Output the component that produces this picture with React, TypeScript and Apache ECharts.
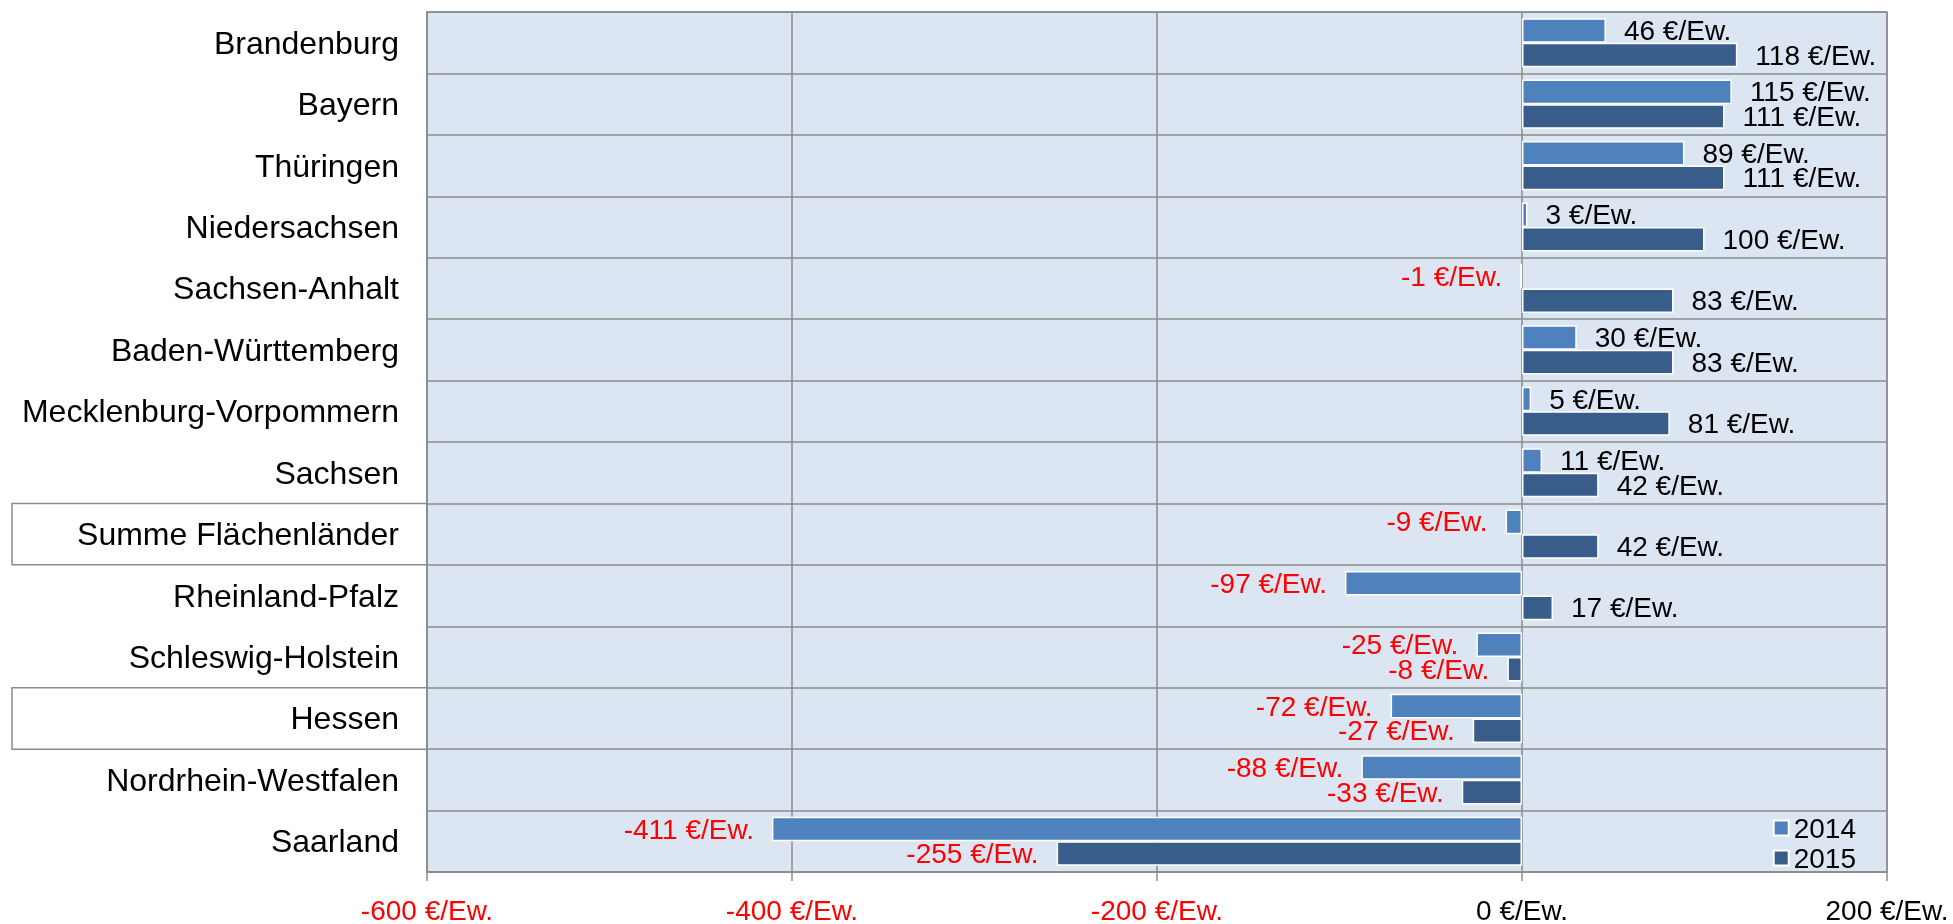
import React, { useEffect, useRef } from "react";
import * as echarts from "echarts";

const categories = [
  "Brandenburg",
  "Bayern",
  "Thüringen",
  "Niedersachsen",
  "Sachsen-Anhalt",
  "Baden-Württemberg",
  "Mecklenburg-Vorpommern",
  "Sachsen",
  "Summe Flächenländer",
  "Rheinland-Pfalz",
  "Schleswig-Holstein",
  "Hessen",
  "Nordrhein-Westfalen",
  "Saarland",
];
const values2014 = [46, 115, 89, 3, -1, 30, 5, 11, -9, -97, -25, -72, -88, -411];
const values2015 = [118, 111, 111, 100, 83, 83, 81, 42, 42, 17, -8, -27, -33, -255];
const boxedCategories = ["Summe Flächenländer", "Hessen"];
const xTicks = { min: -600, max: 200, interval: 200 };

const FONT = "'Liberation Sans', Arial, sans-serif";
const GRID_COLOR = "#8c8c8c";

function makeData(vals: number[]) {
  return vals.map((v) => ({
    value: v,
    label: {
      position: v < 0 ? "left" : "right",
      color: v < 0 ? "#ff0000" : "#000000",
    },
  }));
}

export default function App() {
  const ref = useRef<HTMLDivElement>(null);
  useEffect(() => {
    if (!ref.current) return;
    const chart = echarts.init(ref.current, undefined, { renderer: "svg" });
    const labelCfg = {
      show: true,
      distance: 18,
      fontSize: 28,
      fontFamily: FONT,
      formatter: (p: any) => `${p.value} €/Ew.`,
    };
    chart.setOption({
      animation: false,
      textStyle: { fontFamily: FONT },
      grid: {
        left: 427,
        right: 66,
        top: 12,
        bottom: 48,
        show: true,
        backgroundColor: "#dce6f2",
        borderColor: GRID_COLOR,
        borderWidth: 1.5,
      },
      legend: {
        data: ["2014", "2015"],
        orient: "vertical",
        right: 92,
        top: 809,
        itemWidth: 15,
        itemHeight: 15,
        itemGap: 2,
        itemTextGap: 6,
        icon: "rect",
        textStyle: { fontSize: 28, fontFamily: FONT, color: "#000", lineHeight: 28 },
      },
      xAxis: {
        type: "value",
        min: xTicks.min,
        max: xTicks.max,
        interval: xTicks.interval,
        axisLine: { show: true, lineStyle: { color: GRID_COLOR, width: 1.5 } },
        axisTick: { show: true, length: 9, lineStyle: { color: GRID_COLOR, width: 1.5 } },
        splitLine: { show: true, lineStyle: { color: GRID_COLOR, width: 1.5 } },
        axisLabel: {
          fontSize: 28,
          fontFamily: FONT,
          margin: 24,
          formatter: (v: number) => `${v} €/Ew.`,
          color: (v: any) => (Number(v) < 0 ? "#ff0000" : "#000000"),
        },
      },
      yAxis: {
        type: "category",
        data: categories,
        inverse: true,
        axisLine: { show: true, onZero: false, lineStyle: { color: GRID_COLOR, width: 1.5 } },
        axisTick: { show: false },
        splitLine: { show: true, interval: 0, lineStyle: { color: GRID_COLOR, width: 1.5 } },
        axisLabel: {
          fontSize: 32,
          fontFamily: FONT,
          color: "#000",
          margin: 28,
          interval: 0,
        },
      },
      series: [
        {
          name: "2014",
          type: "bar",
          data: makeData(values2014),
          barGap: "0%",
          barCategoryGap: "20%",
          itemStyle: { color: "#4f81bd", borderColor: "#ffffff", borderWidth: 1.5 },
          label: labelCfg,
        },
        {
          name: "2015",
          type: "bar",
          data: makeData(values2015),
          barGap: "0%",
          barCategoryGap: "20%",
          itemStyle: { color: "#385d8a", borderColor: "#ffffff", borderWidth: 1.5 },
          label: labelCfg,
        },
      ],
    });

    // boxes around highlighted category labels, derived from the axes
    const xLeft = chart.convertToPixel({ xAxisIndex: 0 }, xTicks.min) as number;
    const c0 = chart.convertToPixel({ yAxisIndex: 0 }, 0) as number;
    const c1 = chart.convertToPixel({ yAxisIndex: 0 }, 1) as number;
    const band = Math.abs(c1 - c0);
    const boxes = boxedCategories.map((name) => {
      const idx = categories.indexOf(name);
      const cy = chart.convertToPixel({ yAxisIndex: 0 }, idx) as number;
      return {
        type: "rect",
        z: -1,
        shape: { x: 12, y: cy - band / 2, width: xLeft - 12, height: band },
        style: { fill: "#ffffff", stroke: GRID_COLOR, lineWidth: 1.5 },
      };
    });
    chart.setOption({ graphic: boxes });

    return () => chart.dispose();
  }, []);
  return (
    <div
      ref={ref}
      style={{ position: "fixed", left: 0, top: 0, width: 1953, height: 924 }}
    />
  );
}
